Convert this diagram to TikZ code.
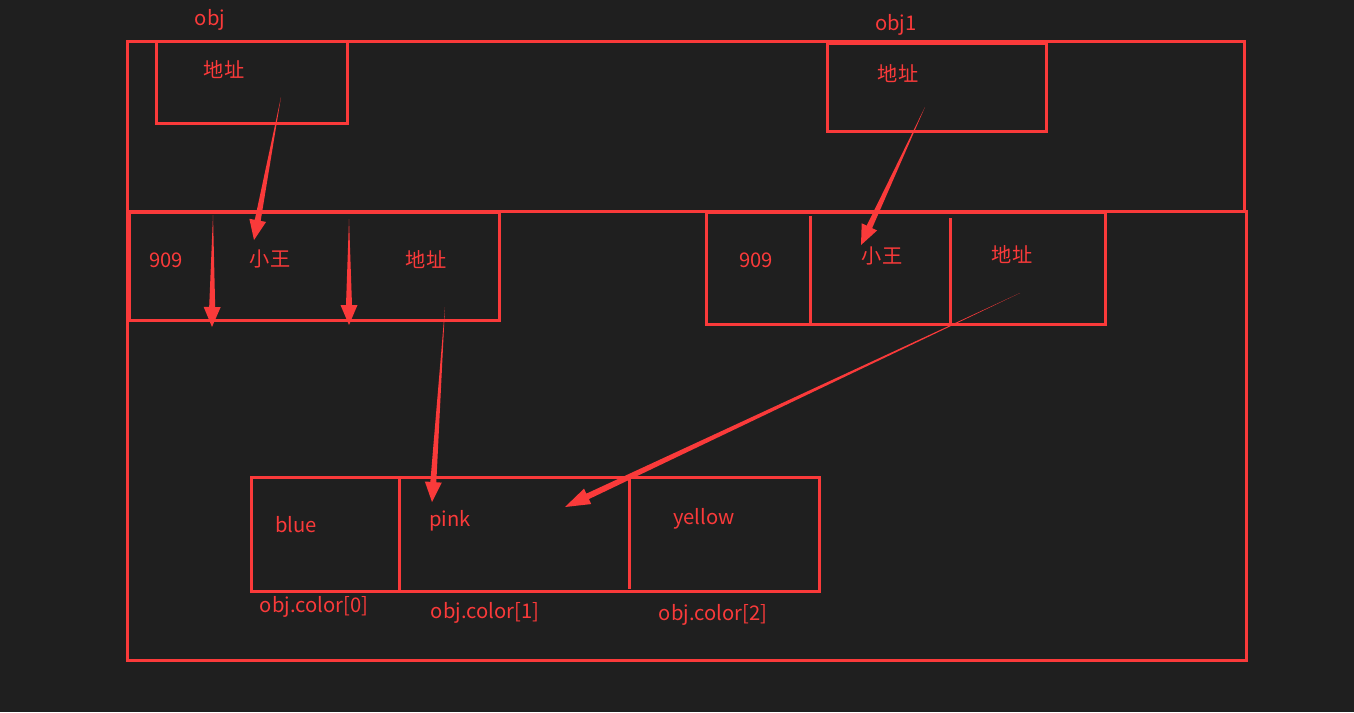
\documentclass[tikz,border=0pt]{standalone}
\usepackage{fontspec}
\setmainfont{Noto Sans CJK SC}
\usetikzlibrary{calc}
\definecolor{bgdark}{HTML}{1F1F1F}
\definecolor{memred}{HTML}{FA3A3A}
\tikzstyle{cell} = [rectangle, draw=memred, line width=0.6mm, inner sep=0pt, outer sep=0pt, anchor=north west]
\tikzstyle{wall} = [draw=memred, line width=0.6mm]
\tikzstyle{txt} = [text=memred, font=\fontsize{11.5pt}{13pt}\selectfont, inner sep=0pt]
% tapered pointer arrow: [head length]{from}{to}
\newcommand{\ptr}[3][4mm]{%
  \coordinate (hb) at ($(#3)!#1!(#2)$);
  \fill[memred] (#2) -- ($(hb)!0.6mm!90:(#3)$) -- ($(hb)!1.7mm!90:(#3)$) -- (#3)
    -- ($(hb)!1.7mm!-90:(#3)$) -- ($(hb)!0.6mm!-90:(#3)$) -- cycle;
}

\begin{document}
\begin{tikzpicture}[x=0.2mm, y=-0.2mm]
\fill[bgdark] (0,0) rectangle (1354,712);
\useasboundingbox (0,0) rectangle (1354,712);

% stack and heap
\node (stack) [cell, minimum width=223.4mm, minimum height=34mm] at (127,41) {};
\node (heap) [cell, minimum width=223.8mm, minimum height=89.8mm] at (127,211) {};

% variables on the stack
\node (objvar) [cell, minimum width=38.2mm, minimum height=16.4mm] at (156,41) {};
\node (objname) [txt] at (210,20) {obj};
\node (objaddr) [txt] at (224,70) {地址};
\node (objonevar) [cell, minimum width=43.8mm, minimum height=17.6mm] at (827,43) {};
\node (objonename) [txt] at (896,25) {obj1};
\node (objoneaddr) [txt] at (898,74) {地址};

% objects on the heap
\node (objmem) [cell, minimum width=74mm, minimum height=21.6mm] at (129,212) {};
\node (age) [txt] at (166,260) {909};
\node (uname) [txt] at (270,259) {小王};
\node (coladdr) [txt] at (426,260) {地址};

\node (objonemem) [cell, minimum width=79.8mm, minimum height=22.4mm] at (706,212) {};
\draw[wall] (810,216) -- (810,324);
\draw[wall] (950,218) -- (950,324);
\node (ageone) [txt] at (756,260) {909};
\node (unameone) [txt] at (882,256) {小王};
\node (coladdrone) [txt] at (1012,255) {地址};

% color array
\node (colarr) [cell, minimum width=113.6mm, minimum height=22.8mm] at (251,477) {};
\draw[wall] (399,477) -- (399,591);
\draw[wall] (629,478) -- (629,589);
\node (blue) [txt] at (296,525) {blue};
\node (pink) [txt] at (450,521) {pink};
\node (yellow) [txt] at (704,519) {yellow};
\node (idxa) [txt] at (314,607) {obj.color[0]};
\node (idxb) [txt] at (485,613) {obj.color[1]};
\node (idxc) [txt] at (713,615) {obj.color[2]};

% pointer ends
\coordinate (pa) at (281,97);   \coordinate (qa) at (254,240);
\coordinate (pb) at (925,107);  \coordinate (qb) at (861,245);
\coordinate (pc) at (213,215);  \coordinate (qc) at (212,327);
\coordinate (pd) at (349,219);  \coordinate (qd) at (349,325);
\coordinate (pe) at (445,307);  \coordinate (qe) at (432,502);
\coordinate (pf) at (1020,293); \coordinate (qf) at (565,507);

\ptr{pa}{qa}
\ptr{pb}{qb}
\ptr{pc}{qc}
\ptr{pd}{qd}
\ptr{pe}{qe}
\ptr[5mm]{pf}{qf}
\end{tikzpicture}
\end{document}
